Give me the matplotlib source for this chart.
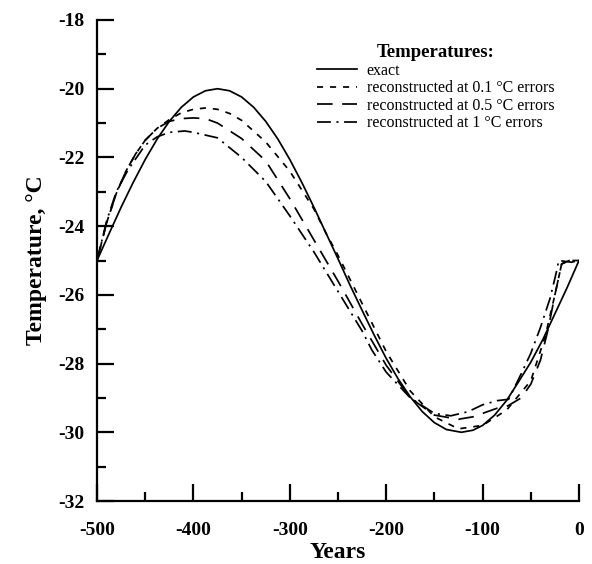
import matplotlib
matplotlib.use("Agg")
import matplotlib.pyplot as plt
from matplotlib.ticker import MultipleLocator

plt.rcParams['font.family'] = ['Liberation Serif', 'DejaVu Serif']
plt.rcParams['axes.unicode_minus'] = False

# exact temperature history
years_exact = [-500, -487.5, -475, -462.5, -450, -437.5, -425, -412.5, -400, -387.5,
               -375, -362.5, -350, -337.5, -325, -312.5, -300, -287.5, -275, -262.5,
               -250, -237.5, -225, -212.5, -200, -187.5, -175, -162.5, -150, -137.5,
               -122, -110, -100, -87.5, -75, -62.5, -50, -37.5, -25, -12.5, 0]
temp_exact = [-25.0, -24.22, -23.45, -22.73, -22.06, -21.46, -20.95, -20.54, -20.24, -20.06,
              -20.0, -20.06, -20.24, -20.54, -20.95, -21.46, -22.06, -22.73, -23.45, -24.2,
              -24.95, -25.72, -26.45, -27.17, -27.85, -28.45, -28.97, -29.4, -29.72, -29.92,
              -30.0, -29.94, -29.8, -29.5, -29.07, -28.52, -27.96, -27.3, -26.55, -25.8, -25.0]

# reconstructed, 0.1 degC errors
years_r01 = [-500, -490, -480, -470, -460, -450, -437.5, -425, -412.5, -400, -387.5,
             -375, -362.5, -350, -325, -300, -275, -262.5, -250, -225, -200, -175,
             -150, -125, -100, -75, -50, -35, -25, -18, -10, 0]
temp_r01 = [-25.0, -23.9, -23.05, -22.4, -21.9, -21.5, -21.15, -20.9, -20.7, -20.6, -20.56,
            -20.6, -20.72, -20.92, -21.55, -22.4, -23.5, -24.2, -24.85, -26.25, -27.65, -28.8,
            -29.55, -29.9, -29.8, -29.35, -28.5, -27.2, -26.0, -25.1, -25.0, -25.0]

# reconstructed, 0.5 degC errors
years_r05 = [-500, -490, -480, -470, -460, -450, -437.5, -425, -412.5, -400, -387.5,
             -375, -350, -325, -300, -275, -250, -225, -200, -175, -150, -125, -110,
             -100, -85, -75, -60, -50, -40, -32, -25, -18, -10, 0]
temp_r05 = [-25.0, -23.9, -23.05, -22.4, -21.9, -21.5, -21.15, -20.95, -20.87, -20.85, -20.87,
            -21.0, -21.45, -22.1, -23.2, -24.4, -25.6, -26.85, -28.05, -29.0, -29.5, -29.62, -29.55,
            -29.45, -29.3, -29.25, -29.0, -28.6, -27.9, -27.0, -26.0, -25.1, -25.0, -25.0]

# reconstructed, 1 degC errors
years_r1 = [-500, -490, -480, -468, -450, -437.5, -425, -409, -400, -375, -350, -325,
            -300, -275, -250, -225, -215, -200, -175, -150, -133, -115, -100, -85, -73,
            -60, -50, -40, -30, -24, -21, -8, 0]
temp_r1 = [-25.0, -23.85, -23.0, -22.37, -21.64, -21.4, -21.27, -21.23, -21.27, -21.43, -22.0, -22.7,
           -23.7, -24.75, -25.9, -27.05, -27.6, -28.25, -29.0, -29.45, -29.52, -29.4, -29.2, -29.08, -29.04,
           -28.3, -27.7, -26.95, -26.1, -25.4, -25.0, -25.05, -25.0]

labels = ["exact", "reconstructed at 0.1 \u00b0C errors",
          "reconstructed at 0.5 \u00b0C errors", "reconstructed at 1 \u00b0C errors"]

fig = plt.figure(figsize=(5.92, 5.64), dpi=100)
ax = fig.add_axes([97 / 592, 63 / 564, 482 / 592, 481 / 564])

lw = 1.25
ax.plot(years_exact, temp_exact, c="k", lw=lw, label=labels[0])
ax.plot(years_r01, temp_r01, c="k", lw=lw, ls=(0, (3.5, 4)), label=labels[1])
ax.plot(years_r05, temp_r05, c="k", lw=lw, ls=(0, (9, 5.5)), label=labels[2])
ax.plot(years_r1, temp_r1, c="k", lw=lw, ls=(0, (8, 3.2, 1.2, 3.2)), label=labels[3])

ax.set_xlim(-500, 0)
ax.set_ylim(-32, -18)
ax.xaxis.set_major_locator(MultipleLocator(100))
ax.xaxis.set_minor_locator(MultipleLocator(50))
ax.yaxis.set_major_locator(MultipleLocator(2))
ax.yaxis.set_minor_locator(MultipleLocator(1))

for side in ("top", "right"):
    ax.spines[side].set_visible(False)
for side in ("left", "bottom"):
    ax.spines[side].set_linewidth(1.6)

ax.tick_params(which="both", direction="in", width=1.6)
ax.tick_params(which="major", length=12, labelsize=14)
ax.tick_params(which="minor", length=6.5)
ax.tick_params(axis="x", which="major", pad=15)
ax.tick_params(axis="y", which="major", pad=9)
for lab in ax.get_xticklabels() + ax.get_yticklabels():
    lab.set_fontweight("bold")

ax.set_xlabel("Years", fontsize=17, fontweight="bold", labelpad=2)
ax.set_ylabel("Temperature, \u00b0C", fontsize=17, fontweight="bold", labelpad=8)

leg = ax.legend(loc="upper left", bbox_to_anchor=(317 / 592, 1 - 44 / 564),
                bbox_transform=fig.transFigure, frameon=False, fontsize=11.5,
                title="Temperatures:", title_fontproperties={"weight": "bold", "size": 13.5},
                borderpad=0, borderaxespad=0, handlelength=2.5, handletextpad=0.6,
                labelspacing=0.1)

fig.savefig("out.png", dpi=100)
